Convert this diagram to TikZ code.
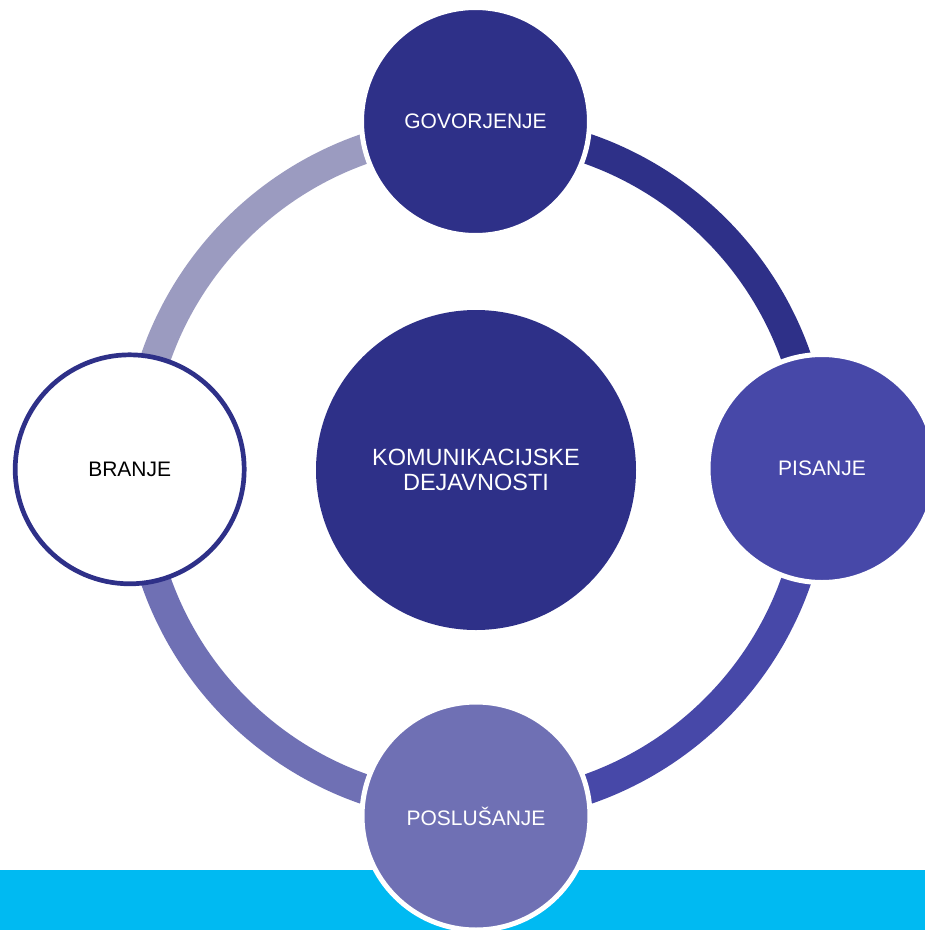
\documentclass[tikz,border=0pt]{standalone}
\usepackage{fontspec}
\setmainfont{Liberation Sans}
\definecolor{navy}{HTML}{2E3088}
\definecolor{midblue}{HTML}{4748A8}
\definecolor{lavender}{HTML}{6F70B4}
\definecolor{palelav}{HTML}{9B9BC0}
\definecolor{cyanband}{HTML}{00BAF2}
\tikzset{
  ringarc/.style={line width=30pt},
  bignode/.style={circle, inner sep=0pt, minimum size=228pt, draw=white, line width=5pt, text=white, font=\fontsize{21}{24}\selectfont},
  opennode/.style={circle, inner sep=0pt, minimum size=229pt, draw=navy, line width=4.7pt, fill=white, text=black, font=\fontsize{21}{24}\selectfont},
  hubnode/.style={circle, inner sep=0pt, minimum size=320pt, fill=navy, text=white, align=center, font=\fontsize{23.5}{25}\selectfont}
}
\begin{document}
\begin{tikzpicture}[x=1pt,y=-1pt]
\useasboundingbox (0,0) rectangle (925,930);
\fill[white] (0,0) rectangle (925,930);
\fill[cyanband] (0,870) rectangle (925,930);
\coordinate (rc) at (476,469);
\draw[ringarc, navy] (rc) ++(-90:339) arc[start angle=-90, end angle=0, radius=339];
\draw[ringarc, midblue] (rc) ++(0:339) arc[start angle=0, end angle=90, radius=339];
\draw[ringarc, lavender] (rc) ++(90:339) arc[start angle=90, end angle=180, radius=339];
\draw[ringarc, palelav] (rc) ++(180:339) arc[start angle=180, end angle=270, radius=339];
\node[hubnode] (hub) at (476,470) {KOMUNIKACIJSKE\\DEJAVNOSTI};
\node[bignode, fill=navy] (gov) at (475.5,121.5) {GOVORJENJE};
\node[bignode, fill=midblue] (pis) at (822,468.5) {PISANJE};
\node[bignode, fill=lavender] (pos) at (476,816) {POSLUŠANJE};
\node[opennode] (bra) at (129.7,469.3) {BRANJE};
\end{tikzpicture}
\end{document}
